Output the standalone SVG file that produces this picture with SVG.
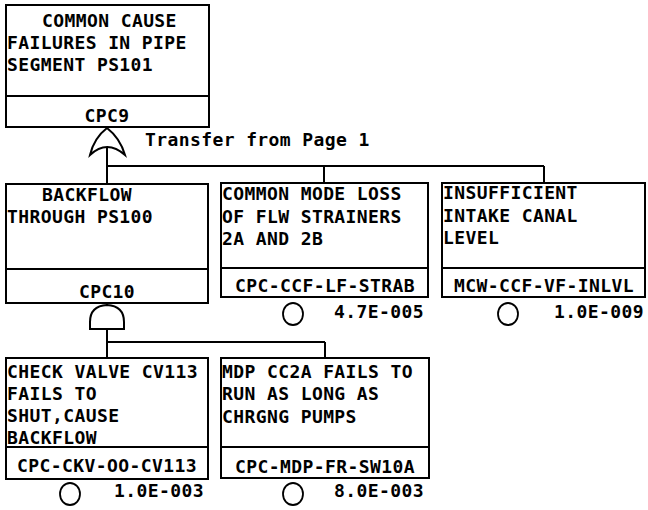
<svg xmlns="http://www.w3.org/2000/svg" width="648" height="510" viewBox="0 0 648 510">
<style>
text{font-family:"DejaVu Sans Mono","Liberation Mono",monospace;font-size:18px;font-weight:bold;fill:#000;letter-spacing:0.4px}
.box{fill:#fff;stroke:#000;stroke-width:2}
.sep{stroke:#000;stroke-width:2}
.gate{fill:#fff;stroke:#000;stroke-width:2}
.ev{fill:#fff;stroke:#000;stroke-width:1.8}
.mid{text-anchor:middle}
.end{text-anchor:end}
#connectors line{stroke:#000;stroke-width:2}
</style>
<rect width="648" height="510" fill="#fff"/>
<g id="connectors">
<line x1="107" y1="146" x2="107" y2="184"/>
<line x1="107" y1="166" x2="544" y2="166"/>
<line x1="324" y1="166" x2="324" y2="183"/>
<line x1="544" y1="166" x2="544" y2="183"/>
<line x1="107" y1="303" x2="107" y2="306"/>
<line x1="107" y1="329" x2="107" y2="358"/>
<line x1="107" y1="342" x2="325" y2="342"/>
<line x1="325" y1="342" x2="325" y2="358"/>
</g>
<g id="CPC9">
<rect class="box" x="6" y="5" width="203" height="122"/>
<line class="sep" x1="6" y1="96" x2="209" y2="96"/>
<text x="42" y="27">COMMON CAUSE</text>
<text x="7" y="49">FAILURES IN PIPE</text>
<text x="7" y="71">SEGMENT PS101</text>
<text class="mid" x="107" y="122">CPC9</text>
<path class="gate" d="M90 155 Q94 138 107 128 Q120 138 125 155 Q107 139 90 155 Z"/>
<text x="145" y="146">Transfer from Page 1</text>
</g>
<g id="CPC10">
<rect class="box" x="6" y="184" width="202" height="119"/>
<line class="sep" x1="6" y1="269" x2="208" y2="269"/>
<text x="42" y="201">BACKFLOW</text>
<text x="7" y="223">THROUGH PS100</text>
<text class="mid" x="107" y="298">CPC10</text>
<path class="gate" d="M90 329 L90 322 Q90 306 107 305 Q124 306 124 322 L124 329 Z"/>
</g>
<g id="CPC-CCF-LF-STRAB">
<rect class="box" x="221" y="183" width="207" height="114"/>
<line class="sep" x1="221" y1="268" x2="428" y2="268"/>
<text x="222" y="200">COMMON MODE LOSS</text>
<text x="222" y="223">OF FLW STRAINERS</text>
<text x="222" y="245">2A AND 2B</text>
<text class="mid" x="325" y="292">CPC-CCF-LF-STRAB</text>
<ellipse class="ev" cx="293" cy="314" rx="10" ry="11"/>
<text class="end" x="424" y="318">4.7E-005</text>
</g>
<g id="MCW-CCF-VF-INLVL">
<rect class="box" x="442" y="183" width="203" height="114"/>
<line class="sep" x1="442" y1="268" x2="645" y2="268"/>
<text x="443" y="199">INSUFFICIENT</text>
<text x="443" y="222">INTAKE CANAL</text>
<text x="443" y="244">LEVEL</text>
<text class="mid" x="544" y="292">MCW-CCF-VF-INLVL</text>
<ellipse class="ev" cx="508" cy="314" rx="10" ry="11"/>
<text class="end" x="644" y="318">1.0E-009</text>
</g>
<g id="CPC-CKV-OO-CV113">
<rect class="box" x="6" y="358" width="202" height="121"/>
<line class="sep" x1="6" y1="447" x2="208" y2="447"/>
<text x="7" y="378">CHECK VALVE CV113</text>
<text x="7" y="400">FAILS TO</text>
<text x="7" y="422">SHUT,CAUSE</text>
<text x="7" y="444">BACKFLOW</text>
<text class="mid" x="107" y="472">CPC-CKV-OO-CV113</text>
<ellipse class="ev" cx="70" cy="494" rx="10" ry="11"/>
<text class="end" x="204" y="497">1.0E-003</text>
</g>
<g id="CPC-MDP-FR-SW10A">
<rect class="box" x="221" y="358" width="208" height="120"/>
<line class="sep" x1="221" y1="447" x2="429" y2="447"/>
<text x="222" y="378">MDP CC2A FAILS TO</text>
<text x="222" y="400">RUN AS LONG AS</text>
<text x="222" y="423">CHRGNG PUMPS</text>
<text class="mid" x="325" y="473">CPC-MDP-FR-SW10A</text>
<ellipse class="ev" cx="293" cy="494" rx="10" ry="11"/>
<text class="end" x="424" y="497">8.0E-003</text>
</g>
</svg>
